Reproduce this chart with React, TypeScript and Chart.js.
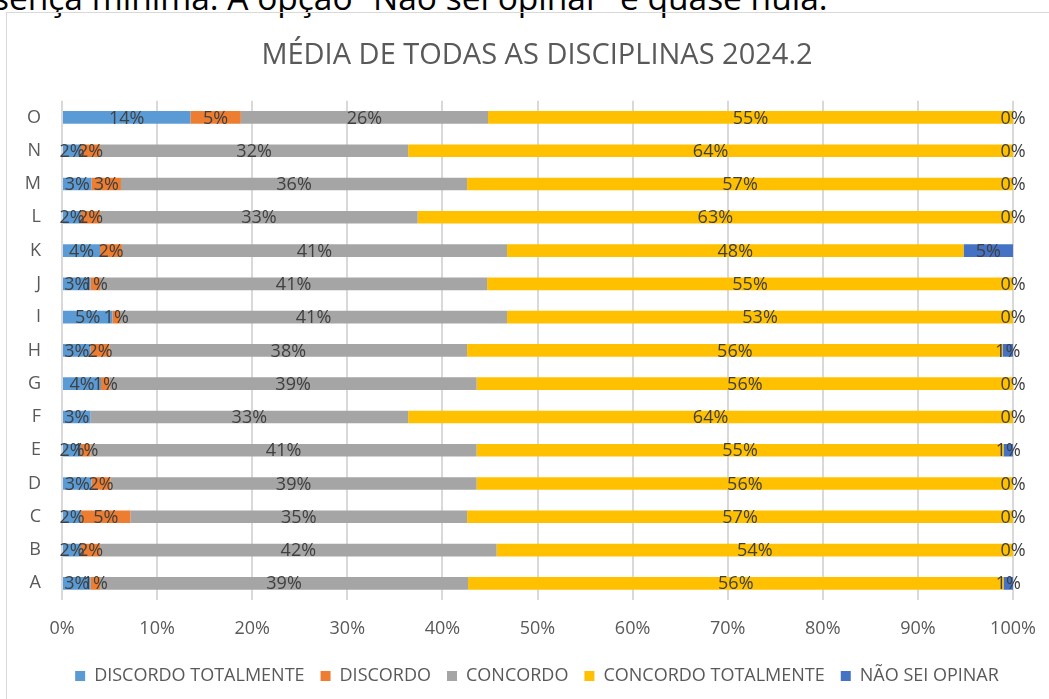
import React, { useEffect, useRef } from "react";
import { Chart, registerables } from "chart.js";

Chart.register(...registerables);

// ---- data (percent of answers per discipline) ----
const categories = ["A", "B", "C", "D", "E", "F", "G", "H", "I", "J", "K", "L", "M", "N", "O"];
const seriesNames = ["DISCORDO TOTALMENTE", "DISCORDO", "CONCORDO", "CONCORDO TOTALMENTE", "NÃO SEI OPINAR"];
const discordoTotalmente = [3.0, 2.0, 2.0, 3.1, 2.0, 3.0, 4.1, 3.0, 5.3, 3.0, 4.0, 2.0, 3.1, 2.0, 13.5];
const discordo = [1.0, 2.0, 5.2, 2.0, 1.0, null, 0.9, 2.0, 0.8, 1.0, 2.3, 2.0, 3.1, 2.0, 5.3];
const concordo = [38.7, 41.7, 35.4, 38.5, 40.6, 33.4, 38.6, 37.6, 40.7, 40.7, 40.5, 33.4, 36.4, 32.4, 26.0];
const concordoTotalmente = [56.3, 54.3, 57.4, 56.4, 55.4, 63.6, 56.4, 56.3, 53.2, 55.3, 48.0, 62.6, 57.4, 63.6, 55.2];
const naoSeiOpinar = [1.0, 0, 0, 0, 1.0, 0, 0, 1.1, 0, 0, 5.2, 0, 0, 0, 0];
const xTickValues = [0, 10, 20, 30, 40, 50, 60, 70, 80, 90, 100];
const xTickLabels = ["0%", "10%", "20%", "30%", "40%", "50%", "60%", "70%", "80%", "90%", "100%"];

const TITLE = "MÉDIA DE TODAS AS DISCIPLINAS 2024.2";
const FONT = '"Open Sans", "Noto Sans", sans-serif';

const segmentLabels = {
  id: "segmentLabels",
  afterDatasetsDraw(chart: any) {
    const ctx = chart.ctx;
    ctx.save();
    ctx.font = `18px ${FONT}`;
    ctx.fillStyle = "#404040";
    ctx.textAlign = "center";
    ctx.textBaseline = "middle";
    chart.data.datasets.forEach((ds: any, i: number) => {
      const meta = chart.getDatasetMeta(i);
      meta.data.forEach((el: any, j: number) => {
        const v = ds.data[j];
        if (v === null || v === undefined) return;
        const p = el.getProps(["x", "y", "base"], true);
        if (!isFinite(p.x) || !isFinite(p.base)) return;
        ctx.fillText(Math.round(v) + "%", (p.x + p.base) / 2, p.y + 1);
      });
    });
    ctx.restore();
  },
};

export default function App() {
  const ref = useRef<HTMLCanvasElement | null>(null);

  useEffect(() => {
    if (!ref.current) return;
    const colors = ["#5B9BD5", "#ED7D31", "#A5A5A5", "#FFC000", "#4472C4"];
    const values = [discordoTotalmente, discordo, concordo, concordoTotalmente, naoSeiOpinar];
    const chart = new Chart(ref.current, {
      type: "bar",
      data: {
        labels: categories,
        datasets: values.map((d, i) => ({
          label: seriesNames[i],
          data: d as any,
          backgroundColor: colors[i],
          borderWidth: 0,
          categoryPercentage: 1,
          barPercentage: 0.38,
        })),
      },
      options: {
        indexAxis: "y",
        responsive: false,
        animation: false,
        events: [],
        layout: { padding: { top: 0, left: 0, right: 0, bottom: 4 } },
        scales: {
          x: {
            type: "linear",
            stacked: true,
            min: 0,
            max: 100,
            afterBuildTicks: (s: any) => {
              s.ticks = xTickValues.map((v) => ({ value: v }));
            },
            afterFit: (s: any) => {
              s.height = 51;
              s.paddingLeft = 0;
              s.paddingRight = 0;
            },
            ticks: {
              autoSkip: false,
              maxRotation: 0,
              padding: 18,
              color: "#595959",
              font: { family: FONT, size: 18 },
              callback: (v: any) => {
                const k = xTickValues.indexOf(Number(v));
                return k >= 0 ? xTickLabels[k] : "";
              },
            },
            grid: { color: "#D9D9D9", lineWidth: 2, drawTicks: false },
            border: { display: false },
          },
          y: {
            type: "category",
            stacked: true,
            reverse: true,
            afterFit: (s: any) => {
              s.width = 55;
              s.paddingTop = 0;
              s.paddingBottom = 0;
            },
            ticks: {
              padding: 21,
              color: "#595959",
              font: { family: FONT, size: 18 },
            },
            grid: { display: false, drawTicks: false },
            border: { display: false },
          },
          yRight: {
            type: "linear",
            position: "right",
            display: true,
            afterFit: (s: any) => {
              s.width = 54;
              s.paddingTop = 0;
              s.paddingBottom = 0;
            },
            ticks: { display: false },
            grid: { display: false, drawTicks: false },
            border: { display: false },
          },
        },
        plugins: {
          title: {
            display: true,
            text: TITLE,
            color: "#595959",
            font: { family: FONT, size: 29, weight: "normal" },
            padding: { top: 25, bottom: 28 },
          },
          legend: {
            display: true,
            position: "bottom",
            labels: {
              boxWidth: 10,
              boxHeight: 10,
              padding: 16,
              color: "#595959",
              font: { family: FONT, size: 18 },
            },
          },
          tooltip: { enabled: false },
        },
      },
      plugins: [segmentLabels],
    });
    return () => chart.destroy();
  }, []);

  return (
    <div
      style={{
        position: "fixed",
        left: 0,
        top: 0,
        width: 1049,
        height: 699,
        overflow: "hidden",
        background: "#ffffff",
      }}
    >
      <div
        style={{
          position: "absolute",
          left: -60,
          top: -19,
          font: `33.5px ${FONT}`,
          lineHeight: "32px",
          whiteSpace: "nowrap",
          color: "#000000",
        }}
      >
        presença mínima. A opção “Não sei opinar” é quase nula.
      </div>
      <div
        style={{
          position: "absolute",
          left: 6,
          top: 12,
          width: 1060,
          height: 700,
          border: "1px solid #D9D9D9",
        }}
      >
        <canvas ref={ref} width={1060} height={686} style={{ display: "block" }} />
      </div>
    </div>
  );
}
